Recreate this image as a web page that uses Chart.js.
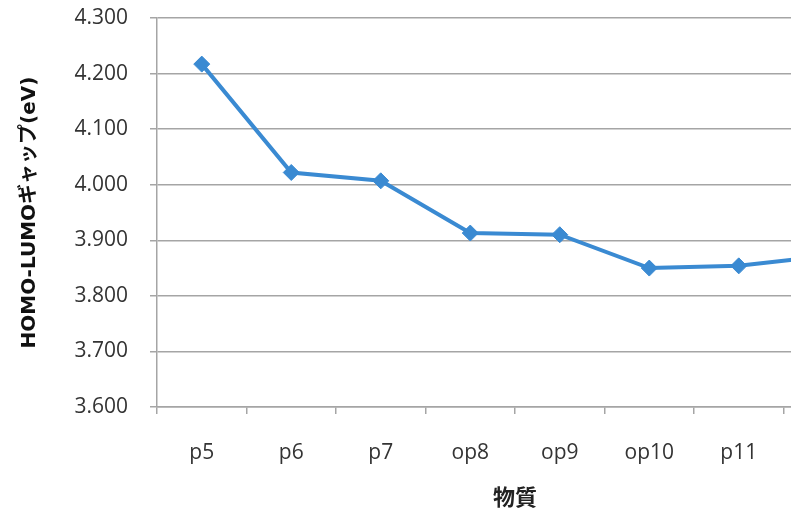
<!DOCTYPE html>
<html>
<head>
<meta charset="utf-8">
<script src="https://cdn.jsdelivr.net/npm/chart.js@4.4.0/dist/chart.umd.min.js"></script>
<style>
  html, body { margin: 0; padding: 0; background: #fff; overflow: hidden; width: 791px; height: 513px; }
  canvas { display: block; }
</style>
</head>
<body>
<canvas id="c" width="882" height="513" style="width:882px;height:513px"></canvas>
<script>
const categories = ['p5', 'p6', 'p7', 'op8', 'op9', 'op10', 'p11', 'p12'];
const gapValues = [4.217, 4.022, 4.007, 3.913, 3.910, 3.850, 3.854, 3.872];
const yMin = 3.6;
const yMax = 4.3;
const yStep = 0.1;
const yTitle = 'HOMO-LUMOギャップ(eV)';
const xTitle = '物質';

const blue = 'rgb(58,138,210)';
const gridGrey = 'rgb(165,165,165)';
const tickFont = { family: '"Open Sans", "Noto Sans", sans-serif', size: 21 };

new Chart(document.getElementById('c'), {
  type: 'line',
  data: {
    labels: categories,
    datasets: [{
      data: gapValues,
      borderColor: blue,
      backgroundColor: blue,
      borderWidth: 4,
      pointStyle: 'rectRot',
      pointRadius: 8,
      pointBorderWidth: 1,
      pointBorderColor: blue,
      pointBackgroundColor: blue,
      tension: 0,
      clip: false
    }]
  },
  options: {
    responsive: false,
    animation: false,
    devicePixelRatio: 1,
    layout: { padding: { top: 18, right: 2, left: 0, bottom: 0 } },
    plugins: { legend: { display: false }, tooltip: { enabled: false } },
    scales: {
      x: {
        type: 'category',
        offset: true,
        grid: { offset: true, drawOnChartArea: false, drawTicks: true, tickLength: 7, color: gridGrey, lineWidth: 1.5 },
        border: { color: gridGrey, width: 1.5 },
        ticks: { color: '#333', font: tickFont, padding: 26, maxRotation: 0 },
        title: { display: true, text: xTitle, color: '#222', font: { family: '"Noto Sans CJK JP", sans-serif', size: 22, weight: 'bold' }, padding: { top: 4, bottom: 3 } },
        afterFit: (s) => { s.height = 106; s.paddingTop = 0; s.paddingBottom = 0; }
      },
      y: {
        min: yMin,
        max: yMax,
        grid: { color: gridGrey, lineWidth: 1.5, drawTicks: true, tickLength: 7 },
        border: { color: gridGrey, width: 1.5 },
        ticks: { stepSize: yStep, color: '#333', font: tickFont, padding: 22, callback: (v) => Number(v).toFixed(3) },
        title: { display: true, text: yTitle, color: '#111', font: { family: '"DejaVu Sans", "Noto Sans CJK JP", sans-serif', size: 20, weight: 'bold' }, padding: { top: 18, bottom: 0 } },
        afterFit: (s) => { s.width = 157; s.paddingTop = 0; s.paddingBottom = 0; }
      }
    }
  }
});
</script>
</body>
</html>
